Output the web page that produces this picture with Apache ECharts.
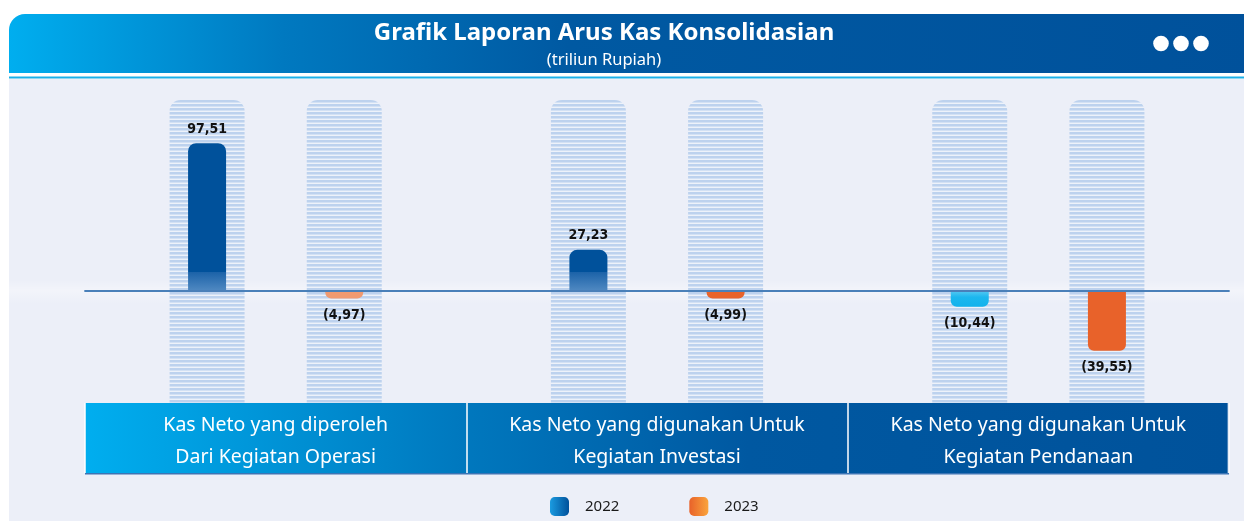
<!DOCTYPE html>
<html>
<head>
<meta charset="utf-8">
<title>Grafik Laporan Arus Kas Konsolidasian</title>
<script src="https://cdn.jsdelivr.net/npm/echarts@6/dist/echarts.min.js"></script>
<style>
  html, body { margin: 0; padding: 0; background: #ffffff; }
  #chart { width: 1244px; height: 521px; }
</style>
</head>
<body>
<div id="chart"></div>
<script>
// ---- data (triliun Rupiah) ----
const categories = [
  'Kas Neto yang diperoleh\nDari Kegiatan Operasi',
  'Kas Neto yang digunakan Untuk\nKegiatan Investasi',
  'Kas Neto yang digunakan Untuk\nKegiatan Pendanaan'
];
const seriesNames = ['2022', '2023'];
const values2022 = [97.51, 27.23, -10.44];
const values2023 = [-4.97, -4.99, -39.55];

// ---- layout & style ----
const W = 1244, H = 521;
const GRID = { left: 85, right: 15, top: 100, bottom: 118 };
const Y_MIN = -74, Y_MAX = 126;
const BAR_W = 38, BAR_GAP = 2.61;          // gap as a fraction of bar width
const COL_W = 75;                           // striped column behind each bar
const ZERO_Y = GRID.top + (Y_MAX / (Y_MAX - Y_MIN)) * (H - GRID.top - GRID.bottom);
const colors2023 = ['#F09A70', '#E8632A', '#E8622A'];

function fmt(v) {
  const s = Math.abs(v).toFixed(2).replace('.', ',');
  return v < 0 ? '(' + s + ')' : s;
}

// horizontal stripe pattern for the column backgrounds
const stripe = document.createElement('canvas');
stripe.width = 4; stripe.height = 4;
(function () {
  const c = stripe.getContext('2d');
  const rows = ['#BDD2EE', '#BDD2EE', '#D3E1F4', '#EDF2FA'];
  rows.forEach((col, i) => { c.fillStyle = col; c.fillRect(0, i, 4, 1); });
})();
const stripeFill = { image: stripe, repeat: 'repeat' };

const blueGloss = {
  type: 'linear', global: true, x: 0, y: ZERO_Y - 160, x2: 0, y2: ZERO_Y,
  colorStops: [
    { offset: 0, color: '#00519B' },
    { offset: 0.88, color: '#00519B' },
    { offset: 0.881, color: '#1B62A8' },
    { offset: 1, color: '#5089C2' }
  ]
};
const cyanFill = {
  type: 'linear', x: 0, y: 0, x2: 0, y2: 1,
  colorStops: [
    { offset: 0, color: '#55C8F1' },
    { offset: 0.4, color: '#1CB7EE' },
    { offset: 1, color: '#12B2EC' }
  ]
};

const labelStyle = {
  show: true,
  fontFamily: '"DejaVu Sans Condensed", "DejaVu Sans"',
  fontWeight: 'bold',
  fontSize: 14,
  color: '#111111',
  formatter: p => fmt(p.value)
};

function barData(values, colorFor) {
  return values.map((v, i) => ({
    value: v,
    label: { position: v < 0 ? 'bottom' : 'top', distance: v < 0 ? 10 : 7 },
    itemStyle: {
      color: colorFor(v, i),
      borderRadius: v < 0 ? [0, 0, 6, 6] : [8, 8, 0, 0]
    }
  }));
}

const chart = echarts.init(document.getElementById('chart'), null, { renderer: 'canvas' });

const option = {
  animation: false,
  backgroundColor: '#ffffff',
  title: {
    text: 'Grafik Laporan Arus Kas Konsolidasian',
    subtext: '(triliun Rupiah)',
    left: 599,
    top: 16,
    textAlign: 'center',
    itemGap: 7,
    textStyle: { fontFamily: 'Noto Sans', fontWeight: 'bold', fontSize: 24, color: '#ffffff' },
    subtextStyle: { fontFamily: 'Noto Sans', fontSize: 16.5, color: '#ffffff' }
  },
  graphic: [
    // page background
    { type: 'rect', z: -10, silent: true,
      shape: { x: 9, y: 79, width: W, height: H },
      style: { fill: '#ECEFF8' } },
    // soft glow along the zero line
    { type: 'rect', z: -9, silent: true,
      shape: { x: 9, y: ZERO_Y - 11, width: W, height: 24 },
      style: { fill: { type: 'linear', x: 0, y: 0, x2: 0, y2: 1, colorStops: [
        { offset: 0, color: 'rgba(255,255,255,0)' },
        { offset: 0.45, color: 'rgba(255,255,255,0.35)' },
        { offset: 1, color: 'rgba(255,255,255,0)' }] } } },
    // header band
    { type: 'rect', z: -5, silent: true,
      shape: { x: 9, y: 14, width: W, height: 59, r: [16, 0, 0, 0] },
      style: { fill: { type: 'linear', x: 0, y: 0, x2: 1, y2: 0, colorStops: [
        { offset: 0, color: '#00AEEF' },
        { offset: 0.22, color: '#0079C0' },
        { offset: 0.45, color: '#0059A2' },
        { offset: 1, color: '#00519B' }] } } },
    { type: 'rect', z: -5, silent: true,
      shape: { x: 9, y: 76.5, width: W, height: 2 },
      style: { fill: '#1BB0E8' } },
    // menu dots
    ...[1161, 1181, 1201].map(cx => ({
      type: 'circle', z: 5, silent: true,
      shape: { cx: cx, cy: 43.5, r: 7.8 },
      style: { fill: '#ffffff' }
    })),
    // category box under the plot
    { type: 'rect', z: -4, silent: true,
      shape: { x: GRID.left, y: H - GRID.bottom, width: W - GRID.left - GRID.right, height: 70 },
      style: { fill: { type: 'linear', x: 0, y: 0, x2: 1, y2: 0, colorStops: [
        { offset: 0, color: '#00AEEF' },
        { offset: 0.33, color: '#0078BE' },
        { offset: 0.58, color: '#0058A1' },
        { offset: 1, color: '#00529B' }] } } },
    { type: 'rect', z: -4, silent: true,
      shape: { x: GRID.left, y: H - GRID.bottom + 70, width: W - GRID.left - GRID.right, height: 1.5 },
      style: { fill: '#3C74B4' } },
    { type: 'rect', z: -4, silent: true,
      shape: { x: W - GRID.right - 1.5, y: H - GRID.bottom, width: 1.5, height: 70 },
      style: { fill: '#9DB9DC' } }
  ],
  legend: {
    top: 492,
    left: 545,
    itemWidth: 19,
    itemHeight: 19,
    itemGap: 70,
    icon: 'roundRect',
    textStyle: { fontFamily: 'Noto Sans', fontSize: 15, color: '#1a1a1a', padding: [0, 0, 0, 11] },
    data: [
      { name: seriesNames[0], itemStyle: { color: { type: 'linear', x: 0, y: 0, x2: 1, y2: 0,
        colorStops: [{ offset: 0, color: '#1B9BE0' }, { offset: 1, color: '#00519B' }] } } },
      { name: seriesNames[1], itemStyle: { color: { type: 'linear', x: 0, y: 0, x2: 1, y2: 0,
        colorStops: [{ offset: 0, color: '#E8622A' }, { offset: 1, color: '#FAA43C' }] } } }
    ]
  },
  grid: { left: GRID.left, right: GRID.right, top: GRID.top, bottom: GRID.bottom, containLabel: false },
  xAxis: [
    {
      type: 'category',
      data: categories,
      z: 4,
      axisLine: { onZero: true, lineStyle: { color: '#4A80B9', width: 1.8 } },
      axisTick: { show: false },
      axisLabel: { show: false },
      splitLine: { show: false }
    },
    {
      type: 'category',
      data: categories,
      position: 'bottom',
      axisLine: { show: false },
      axisTick: {
        show: true, inside: false, length: 70, alignWithLabel: false,
        lineStyle: { color: '#ffffff', width: 1.5 },
        interval: 0
      },
      axisLabel: {
        margin: 6,
        fontFamily: 'Noto Sans',
        fontSize: 19.5,
        lineHeight: 32,
        color: '#ffffff',
        interval: 0
      },
      splitLine: { show: false }
    }
  ],
  yAxis: {
    type: 'value',
    min: Y_MIN,
    max: Y_MAX,
    show: false,
    splitLine: { show: false }
  },
  series: [
    {
      name: 'kolom',
      type: 'custom',
      z: 1,
      silent: true,
      xAxisIndex: 0,
      encode: { x: 0 },
      data: categories.map((c, i) => [i]),
      renderItem: function (params, api) {
        const i = api.value(0);
        const cx = api.coord([i, 0])[0];
        const top = api.coord([i, Y_MAX])[1];
        const bottom = api.coord([i, Y_MIN])[1];
        const off = BAR_W * (1 + BAR_GAP) / 2;
        return {
          type: 'group',
          children: [-off, off].map(d => ({
            type: 'rect',
            shape: { x: cx + d - COL_W / 2, y: top, width: COL_W, height: bottom - top, r: [11, 11, 0, 0] },
            style: { fill: stripeFill }
          }))
        };
      }
    },
    {
      name: seriesNames[0],
      type: 'bar',
      z: 3,
      barWidth: BAR_W,
      barGap: (BAR_GAP * 100) + '%',
      label: labelStyle,
      data: barData(values2022, v => v < 0 ? cyanFill : blueGloss)
    },
    {
      name: seriesNames[1],
      type: 'bar',
      z: 3,
      barWidth: BAR_W,
      label: labelStyle,
      data: barData(values2023, (v, i) => colors2023[i])
    }
  ]
};

chart.setOption(option);
</script>
</body>
</html>
